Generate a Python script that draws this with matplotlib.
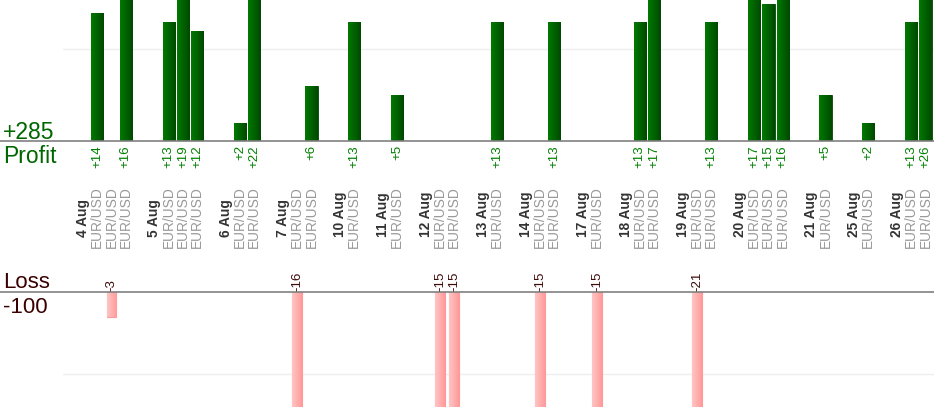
import matplotlib
matplotlib.use("Agg")
import matplotlib.pyplot as plt
from matplotlib.colors import LinearSegmentedColormap
import matplotlib.transforms as mtransforms
import numpy as np

plt.rcParams['font.family'] = ['Liberation Sans', 'DejaVu Sans']

# trades grouped by day (pips)
days = ['4 Aug', '5 Aug', '6 Aug', '7 Aug', '10 Aug', '11 Aug', '12 Aug', '13 Aug',
        '14 Aug', '17 Aug', '18 Aug', '19 Aug', '20 Aug', '21 Aug', '25 Aug', '26 Aug']
day_trades = [[14, -3, 16], [13, 19, 12], [2, 22], [-16, 6], [13], [5], [-15, -15], [13],
              [-15, 13], [-15], [13, 17], [-21, 13], [17, 15, 16], [5], [2], [13, 26]]
pair = 'EUR/USD'

total_profit = sum(v for d in day_trades for v in d if v > 0)
total_loss = sum(v for d in day_trades for v in d if v < 0)

# slot layout: date label, trades, empty gap
date_x, trade_x, trade_v = [], [], []
pos = 0
for day, trades in zip(days, day_trades):
    date_x.append(pos)
    pos += 1
    for v in trades:
        trade_x.append(pos)
        trade_v.append(v)
        pos += 1
    pos += 1
trade_x = np.array(trade_x)
trade_v = np.array(trade_v)
win = trade_v > 0

W, H = 934, 420
fig = plt.figure(figsize=(W / 100, H / 100), dpi=100)

def box(left, top, right, bottom):
    return [left / W, 1 - bottom / H, (right - left) / W, (bottom - top) / H]

xlim = (-1.4, 59.6)
ax_p = fig.add_axes(box(63, 0, 934, 141))
ax_l = fig.add_axes(box(63, 292, 934, 407))

green = LinearSegmentedColormap.from_list('g', ['#007a00', '#004800'])
pink = LinearSegmentedColormap.from_list('p', ['#ffc4c4', '#ff9c9c'])
grad = np.linspace(0, 1, 50).reshape(1, -1)

def gradient_bars(ax, bars, cmap, ylim):
    lo, hi = ylim
    for b in bars:
        x0, y0 = b.get_x(), b.get_y()
        w, h = b.get_width(), b.get_height()
        ya, yb = sorted((y0, y0 + h))
        ya, yb = max(ya, lo), min(yb, hi)
        im = ax.imshow(grad, extent=[x0, x0 + w, ya, yb], aspect='auto',
                       cmap=cmap, zorder=2, interpolation='bilinear')
        im.set_clip_path(b)
    ax.set_ylim(*ylim)

# profit panel
ylim_p = (0, 15.4)
bars_p = ax_p.bar(trade_x[win], trade_v[win], width=0.86, color='#006000',
                  edgecolor='#004a00', linewidth=0.6, zorder=2)
gradient_bars(ax_p, bars_p, green, ylim_p)
ax_p.set_xlim(*xlim)
ax_p.axhline(10, color='#eeeeee', lw=1, zorder=0)
ax_p.axhline(0, xmin=-63 / 871, xmax=1, color='#808080', lw=1.2, clip_on=False, zorder=3)
for x, v in zip(trade_x[win], trade_v[win]):
    ax_p.annotate(f'+{v}', (x, 0), xytext=(0, -3), textcoords='offset points',
                  rotation=90, ha='center', va='top', fontsize=9.5, color='#008000')

# loss panel
ylim_l = (-14.0, 0)
bars_l = ax_l.bar(trade_x[~win], trade_v[~win], width=0.68, color='#ffb0b0',
                  edgecolor='#ff9999', linewidth=0.8, zorder=2)
gradient_bars(ax_l, bars_l, pink, ylim_l)
ax_l.set_xlim(*xlim)
ax_l.axhline(-10, color='#eeeeee', lw=1, zorder=0)
ax_l.axhline(0, xmin=-63 / 871, xmax=1, color='#808080', lw=1.2, clip_on=False, zorder=3)
for x, v in zip(trade_x[~win], trade_v[~win]):
    ax_l.annotate(f'{v}', (x, 0), xytext=(0, 0.5), textcoords='offset points',
                  rotation=90, ha='center', va='bottom', fontsize=9.5, color='#3d0a0a')

for ax in (ax_p, ax_l):
    ax.axis('off')

# date and pair labels between the panels
tr = mtransforms.blended_transform_factory(ax_p.transData, fig.transFigure)
for x, d in zip(date_x, days):
    fig.text(x, 1 - 237 / H, d, transform=tr, rotation=90, ha='center', va='bottom',
             fontsize=9.9, fontweight='bold', color='#333333')
for x in trade_x:
    fig.text(x, 1 - 248 / H, pair, transform=tr, rotation=90, ha='center', va='bottom',
             fontsize=9.9, color='#999999')

# totals on the left
fig.text(3 / W, 1 - 139 / H, f'+{total_profit}', fontsize=16.5, color='#006600', va='baseline')
fig.text(3 / W, 1 - 163 / H, 'Profit', fontsize=16.5, color='#006600', va='baseline')
fig.text(3 / W, 1 - 288 / H, 'Loss', fontsize=16, color='#3a0000', va='baseline')
fig.text(3 / W, 1 - 313 / H, f'{total_loss}', fontsize=16, color='#3a0000', va='baseline')

fig.savefig('out.png', dpi=100, facecolor='white')
